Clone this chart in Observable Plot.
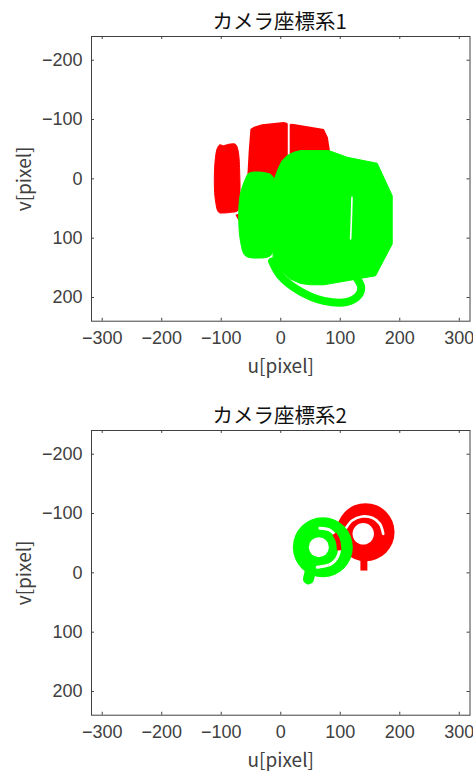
<!DOCTYPE html>
<html>
<head>
<meta charset="utf-8">
<script src="https://cdn.jsdelivr.net/npm/d3@7"></script>
<script src="https://cdn.jsdelivr.net/npm/@observablehq/plot@0.6"></script>
<style>
html,body{margin:0;padding:0;background:#fff;}
svg{display:block;overflow:visible;}
</style>
</head>
<body>
<div id="chart"></div>
<script>
const titles = ["カメラ座標系1", "カメラ座標系2"];
const xLabel = "u[pixel]";
const yLabel = "v[pixel]";
const xTicks = [-300, -200, -100, 0, 100, 200, 300];
const yTicks = [-200, -100, 0, 100, 200];
const RED = "#ff0000", GREEN = "#00ff00";

// camera 1 silhouettes [u, v]
const c1RedLeft = [[-107,-50.4],[-102.6,-57.2],[-95.8,-56],[-87.4,-58.3],[-76.2,-58.3],[-71.7,-47.6],[-68.9,-8.2],[-68.9,31.2],[-72.3,53.7],[-84.6,56.5],[-95.8,57.6],[-104.2,56.5],[-109.3,39.6],[-111.5,-8.2]];
const c1RedMid = [[-51,-84.2],[-45,-88],[-31.4,-92.1],[5.1,-96],[10,-94.5],[11.8,-93],[11.8,36.8],[-67.8,76.2],[-76.2,60.4],[-68,58],[-56.6,3],[-53.8,-47.6]];
const c1RedRight = [[15,-91.5],[17,-93],[21.9,-92.6],[72.4,-84.2],[79.1,-70.1],[83.6,-42],[83.6,36.8],[15,36.8]];
const c1GreenBody = [[-3.3,-19.5],[2.3,-30.7],[10.7,-39.2],[21.9,-44.8],[33.1,-47.6],[80.8,-47.6],[111.6,-36.4],[162.1,-26.2],[187.3,28.3],[187.3,109.9],[159.3,163.4],[111.6,171.8],[72.4,178.6],[50,178.6],[33.1,176.3],[16.3,169],[-3.3,152],[-12.9,132.4],[-11.7,3]];
const c1GreenLeft = [[-53.8,-9.4],[-31.4,-11],[-14.5,-5.4],[-10.6,14.3],[-11.7,115.5],[-17.3,129.6],[-39.8,133.6],[-59.4,129.6],[-67.8,104.3],[-70.6,59.3],[-67.8,25.5],[-59.4,0.2]];
const c1GreenHandle = [[-14.5,139.2],[-0.5,163.4],[33.1,189.8],[72.4,205.6],[111.6,207.3],[130.1,197.1],[135.2,183.1],[128.5,169]];
const c1Slit = [[119.7,31.2],[118.6,70],[117.4,101.5]];

// camera 2 shapes [u, v]
const c2RedDisc = [[142.5,-68.6]];
const c2RedHole = [[138.6,-65.8]];
const c2RedArc = [[110,-75.9],[120,-88.3],[136.9,-95],[153.7,-92.8],[166.6,-82.6],[172.2,-65.8]];
const c2RedStem = [[139.7,-30],[139.7,-3.9]];
const c2GreenDisc = [[70.7,-43.3]];
const c2GreenHole = [[64,-43.3]];
const c2GreenArc = [[65.7,-75.3],[83.6,-71.4],[95.9,-54.5],[98.2,-34.8],[86.4,-16.2],[61.2,-9.5]];
const c2GreenGapRed = [[90,-66],[95.9,-54.5],[98.2,-38]];
const c2GreenStem = [[50,-3.9],[46.6,10.2]];

const poly = (pts, fill, curve = "linear-closed", strokeWidth = 1) => Plot.line(pts, {x: d => d[0], y: d => d[1], fill, stroke: fill, strokeWidth, curve});
const arc = (pts, stroke, strokeWidth, strokeLinecap = "round") => Plot.line(pts, {x: d => d[0], y: d => d[1], stroke, strokeWidth, strokeLinecap, curve: "catmull-rom"});
const disc = (pts, fill, r) => Plot.dot(pts, {x: d => d[0], y: d => d[1], r, fill, stroke: "none"});

const fmt = d => d < 0 ? "\u2212" + (-d) : String(d);
const INK = "#404040";
const CJK = "'Noto Sans CJK JP', sans-serif";

function panel(title, marks, marginTop, marginBottom, height) {
  return Plot.plot({
    width: 473, height, marginTop, marginBottom, marginLeft: 91, marginRight: 3.5,
    style: {fontFamily: "'Liberation Sans', Arial, sans-serif", background: "#fff", overflow: "visible"},
    x: {domain: [-318, 318], label: null},
    y: {domain: [-240, 240], reverse: true, label: null},
    marks: [
      ...marks,
      Plot.frame({stroke: INK, strokeWidth: 1, strokeOpacity: 1}),
      Plot.axisX(xTicks, {anchor: "bottom", tickSize: 0, tickPadding: 10, tickFormat: fmt, fontSize: 18, fill: INK, label: null}),
      Plot.axisY(yTicks, {anchor: "left", tickSize: 0, tickPadding: 9, tickFormat: fmt, fontSize: 18, fill: INK, label: null}),
      Plot.ruleX(xTicks, {x: d => d, y1: -240, y2: -235, stroke: INK}),
      Plot.ruleX(xTicks, {x: d => d, y1: 240, y2: 235, stroke: INK}),
      Plot.ruleY(yTicks, {y: d => d, x1: -318, x2: -313, stroke: INK}),
      Plot.ruleY(yTicks, {y: d => d, x1: 318, x2: 313, stroke: INK}),
      Plot.text([xLabel], {frameAnchor: "bottom", lineAnchor: "middle", textAnchor: "middle", dy: 46, text: d => d, fontSize: 19, fill: INK, fontFamily: CJK}),
      Plot.text([yLabel], {frameAnchor: "left", lineAnchor: "middle", textAnchor: "middle", dx: -67, rotate: -90, text: d => d, fontSize: 19, fill: INK, fontFamily: CJK}),
      Plot.text([title], {frameAnchor: "top", lineAnchor: "middle", textAnchor: "middle", dx: -1, dy: -14, text: d => d, fontSize: 20.5, fill: "#111", fontFamily: CJK})
    ]
  });
}

const marks1 = [
  poly(c1RedLeft, RED, "catmull-rom-closed", 1),
  poly(c1RedMid, RED, "linear-closed", 0),
  poly(c1RedRight, RED, "linear-closed", 0),
  poly(c1GreenBody, GREEN),
  poly(c1GreenLeft, GREEN, "catmull-rom-closed", 1),
  arc(c1GreenHandle, GREEN, 8),
  arc(c1Slit, "#fff", 1.6)
];
const marks2 = [
  disc(c2RedDisc, RED, 29),
  arc(c2RedStem, RED, 7, "butt"),
  arc(c2RedArc, "#fff", 2.7),
  disc(c2RedHole, "#fff", 10.7),
  disc(c2GreenDisc, GREEN, 30),
  arc(c2GreenArc, "#fff", 3),
  arc(c2GreenGapRed, RED, 4.5, "butt"),
  arc(c2GreenStem, GREEN, 11),
  disc(c2GreenHole, "#fff", 10)
];

const root = document.getElementById("chart");
root.append(panel(titles[0], marks1, 36, 64.3, 385));
root.append(panel(titles[1], marks2, 45, 56.3, 386));
</script>
</body>
</html>
